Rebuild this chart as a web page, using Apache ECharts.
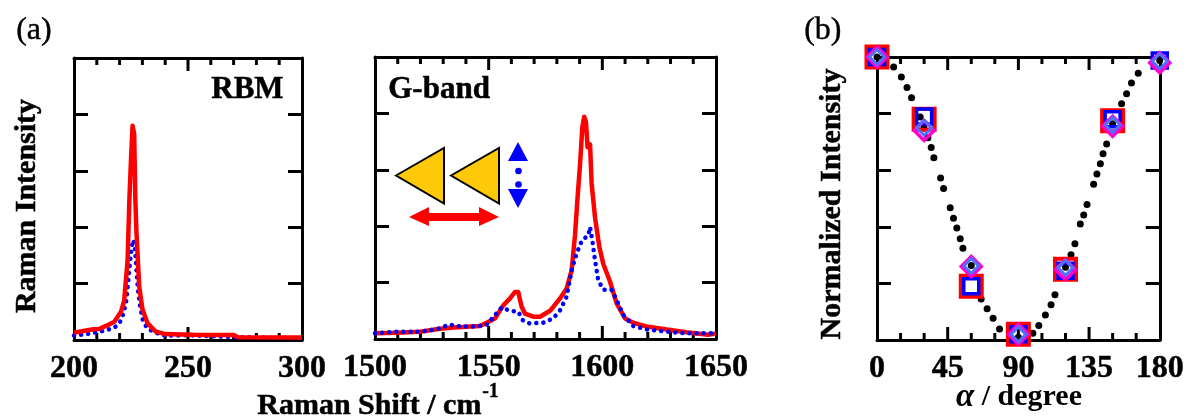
<!DOCTYPE html>
<html><head><meta charset="utf-8">
<style>html,body{margin:0;padding:0;background:#fff}#c{width:1187px;height:418px}</style>
<script src="https://cdn.jsdelivr.net/npm/echarts@6/dist/echarts.min.js"></script>
</head><body><div id="c"></div>
<script>
const rbmRed=[[200,2.6],[204,3.2],[208.5,3.8],[211,3.9],[214,5],[217.7,6.5],[220.6,10],[222,14],[223.5,28],[224.3,50],[225,64],[225.7,76],[226.4,73],[226.9,50],[227.4,38],[228.6,19],[230,11],[232.2,6],[235.8,3],[240,2.1],[255,1.8],[270,1.8],[272,1],[300,0.9]];
const rbmBlue=[[200,1.6],[205,2],[210,2.8],[214,3.4],[218,4.6],[220,6],[221.5,9],[222.8,13],[223.7,20],[224.5,27],[225.3,33],[226,35.5],[226.7,33],[227.3,26],[228,18],[229,12],[230.2,7],[232,4.3],[235,2.8],[240,1.5],[250,1.7],[270,1],[300,0.7]];
const gRed=[[1500,2],[1509.5,2.2],[1519.8,2.6],[1528.6,3.6],[1534.5,4.1],[1546.2,4.6],[1552.8,7.3],[1556.5,12],[1559.4,14.4],[1561.6,16.7],[1563,16.7],[1564.5,11.4],[1566,9],[1569.6,7.9],[1572.6,7.9],[1577,10],[1581.4,14.4],[1584.3,17.9],[1586.5,24.4],[1588,37],[1589,49],[1590.2,62],[1591.2,75],[1592,78.8],[1592.8,77],[1593.5,68],[1594.6,69],[1595.3,55],[1596.8,43],[1598.7,32.6],[1600.4,26.7],[1603.4,20.3],[1606.3,12.6],[1610,7.3],[1613.6,5.8],[1619.5,4.4],[1628.3,3.4],[1637,2.4],[1646.6,1.5],[1650,2]];
const gBlue=[[1500,2],[1509.5,2.6],[1519.8,2.6],[1527,3.4],[1533,5.2],[1535,4.6],[1543,4.4],[1549,4.9],[1552.8,8.5],[1555.7,11.2],[1559.4,10],[1563,9.7],[1565,6.7],[1568,5.5],[1574,5.8],[1578.4,7.3],[1581.4,10.2],[1584.3,15],[1586.5,24.4],[1588.7,30.3],[1591,35],[1593.8,36.7],[1594.6,39.7],[1595.6,35],[1596.8,27.9],[1598.2,20.8],[1600.4,17.5],[1604,17.5],[1606.3,13.8],[1609.2,8.5],[1613.6,4.6],[1619.5,3.4],[1628.3,2.6],[1637,2],[1650,2]];
const fitDots=[[0,1],[10.6,.965],[15.5,.929],[19.1,.892],[22,.856],[27.5,.788],[29.9,.749],[32.4,.715],[34.5,.68],[36.2,.644],[40.5,.572],[42.4,.535],[46.6,.467],[48.7,.43],[50.8,.396],[53,.358],[54.7,.324],[60,.263],[66.3,.145],[70.1,.11],[73.9,.077],[78,.039],[90,.01],[99.2,.024],[103,.051],[107.2,.088],[110.8,.125],[113.3,.16],[120,.257],[123.5,.301],[126,.34],[129.4,.41],[131.6,.442],[133.7,.479],[137.9,.55],[140,.587],[142.2,.623],[143.9,.658],[146.2,.693],[150,.764],[155.7,.835],[158.9,.87],[162,.908],[166.3,.943],[180,.988]];
const redSquares=[[0,1],[30,.78],[60,.19],[90,.02],[120,.25],[150,.775]];
const blueSquares=[[0,1],[30,.79],[60,.19],[90,.02],[120,.245],[150,.78],[180,.988]];
const magentaDiamonds=[[0,1],[30,.74],[60,.26],[90,.02],[120,.248],[150,.755],[180,.98]];
const lightDiamonds=[[0,1],[30,.75],[60,.262],[90,.02],[120,.255],[150,.76],[180,.985]];
const rbmTicks=[210,220,230,240,250,260,270,280,290];
const gTicks=[1510,1520,1530,1540,1550,1560,1570,1580,1590,1600,1610,1620,1630,1640];
const angleTicks=[15,30,45,60,75,90,105,120,135,150,165];

const F='"Liberation Serif","Times New Roman",serif';
const ink='#000';
function xa(grid,min,max,itv,top){return {type:'value',gridIndex:grid,min,max,interval:itv,position:top?'top':'bottom',
 axisLine:{show:true,onZero:false,lineStyle:{color:ink,width:3}},
 axisTick:{show:false},splitLine:{show:false},
 axisLabel:{show:!top,margin:13,fontFamily:F,fontWeight:'bold',fontSize:32,color:ink,textBorderColor:ink,textBorderWidth:.5,formatter:v=>String(v)}};}
function ya(grid,min,max,itv,right){return {type:'value',gridIndex:grid,min,max,interval:itv,position:right?'right':'left',
 axisLine:{show:true,onZero:false,lineStyle:{color:ink,width:3}},
 axisTick:{show:true,inside:true,length:14,lineStyle:{color:ink,width:3}},
 splitLine:{show:false},axisLabel:{show:false}};}
function ticks(values,xi,xmin,major,ymax){return {type:'custom',xAxisIndex:xi,yAxisIndex:xi,data:values.map(v=>[v,0]),clip:false,silent:true,z:2,
 renderItem:(p,api)=>{const v=api.value(0),b=api.coord([v,0]),t=api.coord([v,ymax]),n=(v-xmin)%major===0?13:7,s={stroke:ink,lineWidth:3};
  return {type:'group',children:[{type:'line',shape:{x1:b[0],y1:b[1],x2:b[0],y2:b[1]-n},style:s},{type:'line',shape:{x1:t[0],y1:t[1],x2:t[0],y2:t[1]+n},style:s}]};}};}
function line(data,xi,color,dotted,z){return {type:'line',xAxisIndex:xi,yAxisIndex:xi,data,showSymbol:false,symbol:'none',smooth:false,z,
 lineStyle:dotted?{color,width:4.5,type:[0.1,7],cap:'round'}:{color,width:4.5,join:'round'},silent:true};}
function marks(data,symbol,size,color,bw,z){return {type:'scatter',xAxisIndex:2,yAxisIndex:2,data,symbol,symbolSize:size,clip:false,z,silent:true,
 itemStyle:{color:'rgba(0,0,0,0)',borderColor:color,borderWidth:bw,opacity:1}};}
const title={fontFamily:F,fontWeight:'bold',fontSize:31,fill:ink,stroke:ink,lineWidth:.5};
const vert={rotation:Math.PI/2,style:{align:'center',verticalAlign:'middle',...title,fontSize:30}};
const option={animation:false,backgroundColor:'#fff',
 grid:[{left:74,top:58,width:228,height:282},{left:375,top:57,width:341,height:282},{left:877,top:57,width:284,height:283}],
 xAxis:[xa(0,200,300,50,false),xa(1,1500,1650,50,false),xa(2,0,180,45,false),xa(0,200,300,50,true),xa(1,1500,1650,50,true),xa(2,0,180,45,true)],
 yAxis:[ya(0,0,100,20,false),ya(1,0,100,20,false),ya(2,0,1,.2,false),ya(0,0,100,20,true),ya(1,0,100,20,true),ya(2,0,1,.2,true)],
 series:[
  ticks(rbmTicks,0,200,50,100),ticks(gTicks,1,1500,50,100),ticks(angleTicks,2,0,45,1),
  line(rbmBlue,0,'#0000ff',true,3),line(rbmRed,0,'#ff0000',false,4),
  line(gRed,1,'#ff0000',false,3),line(gBlue,1,'#0000ff',true,4),
  {type:'scatter',xAxisIndex:2,yAxisIndex:2,data:fitDots,symbol:'circle',symbolSize:7,itemStyle:{color:ink,opacity:1},clip:false,z:2,silent:true},
  marks(redSquares,'rect',21,'#ff0000',4,3),
  marks(blueSquares,'rect',15,'#0000ff',3.5,4),
  marks(magentaDiamonds,'diamond',20,'#ff00cc',3.5,5),
  marks(lightDiamonds,'diamond',15,'#4f70ff',3,6)
 ],
 graphic:[
  {type:'text',left:16,top:14,style:{text:'(a)',fontFamily:F,fontSize:32,fill:ink,stroke:ink,lineWidth:.4}},
  {type:'text',left:804,top:14,style:{text:'(b)',fontFamily:F,fontSize:32,fill:ink,stroke:ink,lineWidth:.4}},
  {type:'text',left:211,top:74,style:{text:'RBM',...title}},
  {type:'text',left:388,top:74,style:{text:'G-band',...title}},
  {type:'text',x:27,y:206,...vert,style:{...vert.style,text:'Raman Intensity'}},
  {type:'text',x:832,y:204,...vert,style:{...vert.style,text:'Normalized Intensity'}},
  {type:'text',left:257,top:391,style:{text:'Raman Shift / cm',fontFamily:F,fontWeight:'bold',fontSize:30,fill:ink,stroke:ink,lineWidth:.5}},
  {type:'text',left:482,top:382,style:{text:'-1',fontFamily:F,fontWeight:'bold',fontSize:20,fill:ink,stroke:ink,lineWidth:.3}},
  {type:'text',left:956,top:381,style:{rich:{i:{fontFamily:F,fontWeight:'bold',fontStyle:'italic',fontSize:33,fill:ink},a:{fontFamily:F,fontWeight:'bold',fontSize:30,fill:ink}},text:'{i|α}{a| / degree}'}},
  {type:'polygon',shape:{points:[[396,175.5],[444,148],[444,203.5]]},style:{fill:'#ffc90a',stroke:ink,lineWidth:2}},
  {type:'polygon',shape:{points:[[451,175.5],[499,148],[499,203.5]]},style:{fill:'#ffc90a',stroke:ink,lineWidth:2}},
  {type:'polygon',shape:{points:[[409,217],[429,207],[429,213],[479,213],[479,207],[499,217],[479,226],[479,221],[429,221],[429,226]]},style:{fill:'#ff0000'}},
  {type:'polygon',shape:{points:[[518,142],[528,161],[508,161]]},style:{fill:'#0000ff'}},
  {type:'polygon',shape:{points:[[518,208],[528,189],[508,189]]},style:{fill:'#0000ff'}},
  {type:'circle',shape:{cx:518.5,cy:171,r:3.3},style:{fill:'#0000ff'}},
  {type:'circle',shape:{cx:518.5,cy:184.5,r:3.3},style:{fill:'#0000ff'}}
 ]};
const chart=echarts.init(document.getElementById('c'),null,{renderer:'canvas'});
chart.setOption(option);
</script></body></html>
